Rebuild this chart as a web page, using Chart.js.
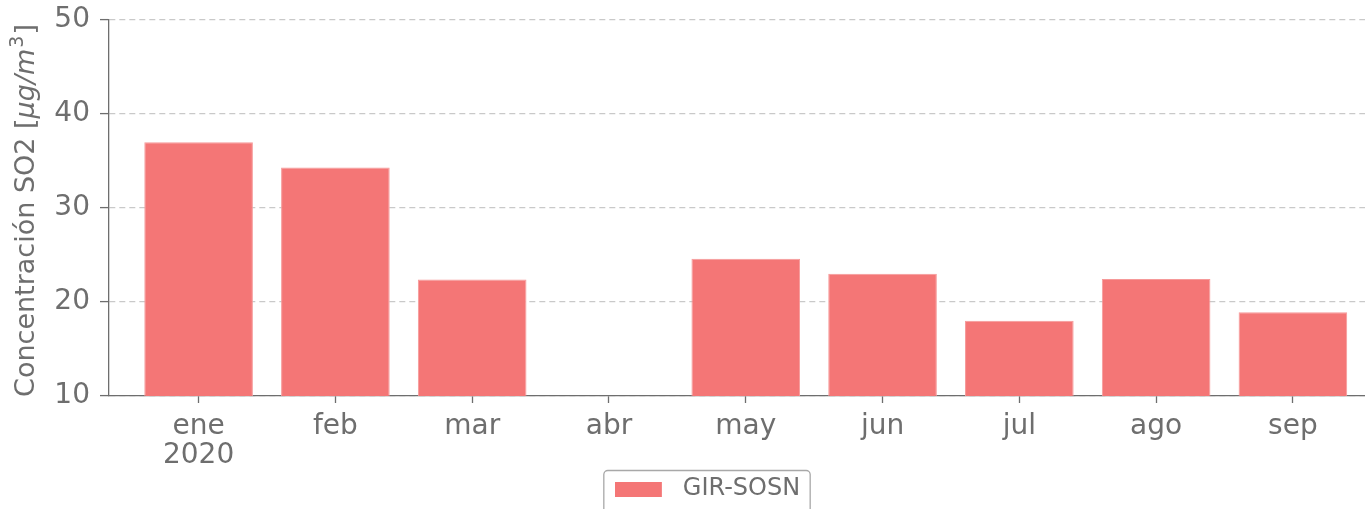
<!DOCTYPE html>
<html>
<head>
<meta charset="utf-8">
<script src="https://cdn.jsdelivr.net/npm/chart.js@4/dist/chart.umd.min.js"></script>
<style>
  html, body { margin: 0; padding: 0; background: #ffffff; }
  #wrap { width: 1365px; height: 509px; position: relative; }
</style>
</head>
<body>
<div id="wrap"><canvas id="c" width="1365" height="509"></canvas></div>
<script>
// ---- data ----
const months = ['ene', 'feb', 'mar', 'abr', 'may', 'jun', 'jul', 'ago', 'sep'];
const yearLabel = '2020';
const so2Values = [37.0, 34.3, 22.4, null, 24.6, 23.0, 18.0, 22.45, 18.9];
const seriesName = 'GIR-SOSN';
const yTicks = [10, 20, 30, 40, 50];
const yTitleMain = 'Concentración SO2 [';
const yTitleUnit = 'μg/m';
const yTitleSup = '3';
const yTitleEnd = ']';

// ---- styles ----
const FONT = '"DejaVu Sans", "Liberation Sans", sans-serif';
const FS_TICK = 28;
const FS_TITLE = 27;
const FS_LEG = 24;
const TEXT = '#6e6e6e';
const AXIS = '#6e6e6e';
const GRID = '#c9c9c9';
const BAR = '#F47676';

const tickLabels = months.map((m, i) => i === 0 ? [m, yearLabel] : m);

// legend swatch (47px box + spacing)
const sw = document.createElement('canvas');
sw.width = 56; sw.height = 15;
{ const g = sw.getContext('2d'); g.fillStyle = BAR; g.fillRect(0, 0, 47, 15); }

const yTitlePlugin = {
  id: 'yTitle',
  afterDraw(chart) {
    const ctx = chart.ctx;
    const ca = chart.chartArea;
    const FS = FS_TITLE;
    const fN = `${FS}px ${FONT}`;
    const fI = `italic ${FS}px ${FONT}`;
    const fS = `${Math.round(FS * 0.7)}px ${FONT}`;
    ctx.save();
    ctx.font = fN; const w1 = ctx.measureText(yTitleMain).width; const w4 = ctx.measureText(yTitleEnd).width;
    ctx.font = fI; const w2 = ctx.measureText(yTitleUnit).width;
    ctx.font = fS; const w3 = ctx.measureText(yTitleSup).width;
    const total = w1 + w2 + w3 + 2 + w4;
    const cy = (ca.top + ca.bottom) / 2 + 2.5;
    ctx.translate(34, cy);
    ctx.rotate(-Math.PI / 2);
    ctx.fillStyle = TEXT;
    ctx.textBaseline = 'alphabetic';
    ctx.textAlign = 'left';
    let x = -total / 2;
    ctx.font = fN; ctx.fillText(yTitleMain, x, 0); x += w1;
    ctx.font = fI; ctx.fillText(yTitleUnit, x, 0); x += w2 + 1;
    ctx.font = fS; ctx.fillText(yTitleSup, x, -FS * 0.42); x += w3 + 1;
    ctx.font = fN; ctx.fillText(yTitleEnd, x, 0);
    ctx.restore();
  }
};

const legendFramePlugin = {
  id: 'legendFrame',
  afterLayout(chart) {
    const lg = chart.legend;
    if (lg) { lg.left += 25; lg.right += 25; }
  },
  afterDraw(chart) {
    const lg = chart.legend;
    if (!lg || !lg.legendHitBoxes || !lg.legendHitBoxes.length) return;
    const hb = lg.legendHitBoxes[0];
    const ctx = chart.ctx;
    const l = hb.left - 11, r = hb.left + hb.width + 10, t = hb.top - 6.5, b = 530, rad = 4;
    ctx.save();
    ctx.strokeStyle = '#a8a8a8';
    ctx.lineWidth = 1.3;
    ctx.beginPath();
    ctx.moveTo(l, b);
    ctx.lineTo(l, t + rad);
    ctx.arcTo(l, t, l + rad, t, rad);
    ctx.lineTo(r - rad, t);
    ctx.arcTo(r, t, r, t + rad, rad);
    ctx.lineTo(r, b);
    ctx.stroke();
    ctx.restore();
  }
};

new Chart(document.getElementById('c'), {
  type: 'bar',
  data: {
    datasets: [{
      label: seriesName,
      data: months.map((m, i) => ({ x: i, y: so2Values[i] })),
      backgroundColor: BAR,
      borderColor: '#f69999',
      borderWidth: 1,
      barPercentage: 0.794,
      categoryPercentage: 1.0
    }]
  },
  options: {
    responsive: false,
    animation: false,
    events: [],
    layout: { padding: { top: 20, left: 0, right: 0, bottom: -2 } },
    plugins: {
      tooltip: { enabled: false },
      legend: {
        position: 'bottom',
        labels: {
          usePointStyle: true,
          pointStyle: sw,
          pointStyleWidth: 56,
          boxHeight: 15,
          padding: 10,
          color: TEXT,
          font: { family: FONT, size: FS_LEG }
        }
      }
    },
    scales: {
      x: {
        type: 'linear',
        min: -0.655,
        max: 8.527,
        offset: false,
        z: 1,
        afterBuildTicks: (s) => { s.ticks = months.map((m, i) => ({ value: i })); },
        afterFit: (s) => { s.height = 71; s.paddingLeft = 0; s.paddingRight = 0; },
        ticks: {
          autoSkip: false,
          maxRotation: 0,
          padding: 9,
          color: TEXT,
          font: { family: FONT, size: FS_TICK, lineHeight: 1.04 },
          callback: (v) => tickLabels[v]
        },
        grid: {
          display: true,
          offset: false,
          drawOnChartArea: false,
          drawTicks: true,
          tickLength: 7,
          tickColor: AXIS,
          tickWidth: 1.3
        },
        border: { display: true, color: AXIS, width: 1.3 }
      },
      y: {
        min: 10,
        max: 50,
        z: 1,
        afterBuildTicks: (s) => { s.ticks = yTicks.map(v => ({ value: v })); },
        afterFit: (s) => { s.width = 109; s.paddingTop = 0; s.paddingBottom = 0; },
        ticks: {
          padding: 10,
          color: TEXT,
          font: { family: FONT, size: FS_TICK },
          callback: (v) => String(v)
        },
        grid: {
          display: true,
          drawOnChartArea: true,
          drawTicks: true,
          color: GRID,
          lineWidth: 1.2,
          tickLength: 9,
          tickColor: AXIS,
          tickWidth: 1.3,
          tickBorderDash: []
        },
        border: { display: true, color: AXIS, width: 1.3, dash: [6, 4] }
      }
    }
  },
  plugins: [yTitlePlugin, legendFramePlugin]
});
</script>
</body>
</html>
